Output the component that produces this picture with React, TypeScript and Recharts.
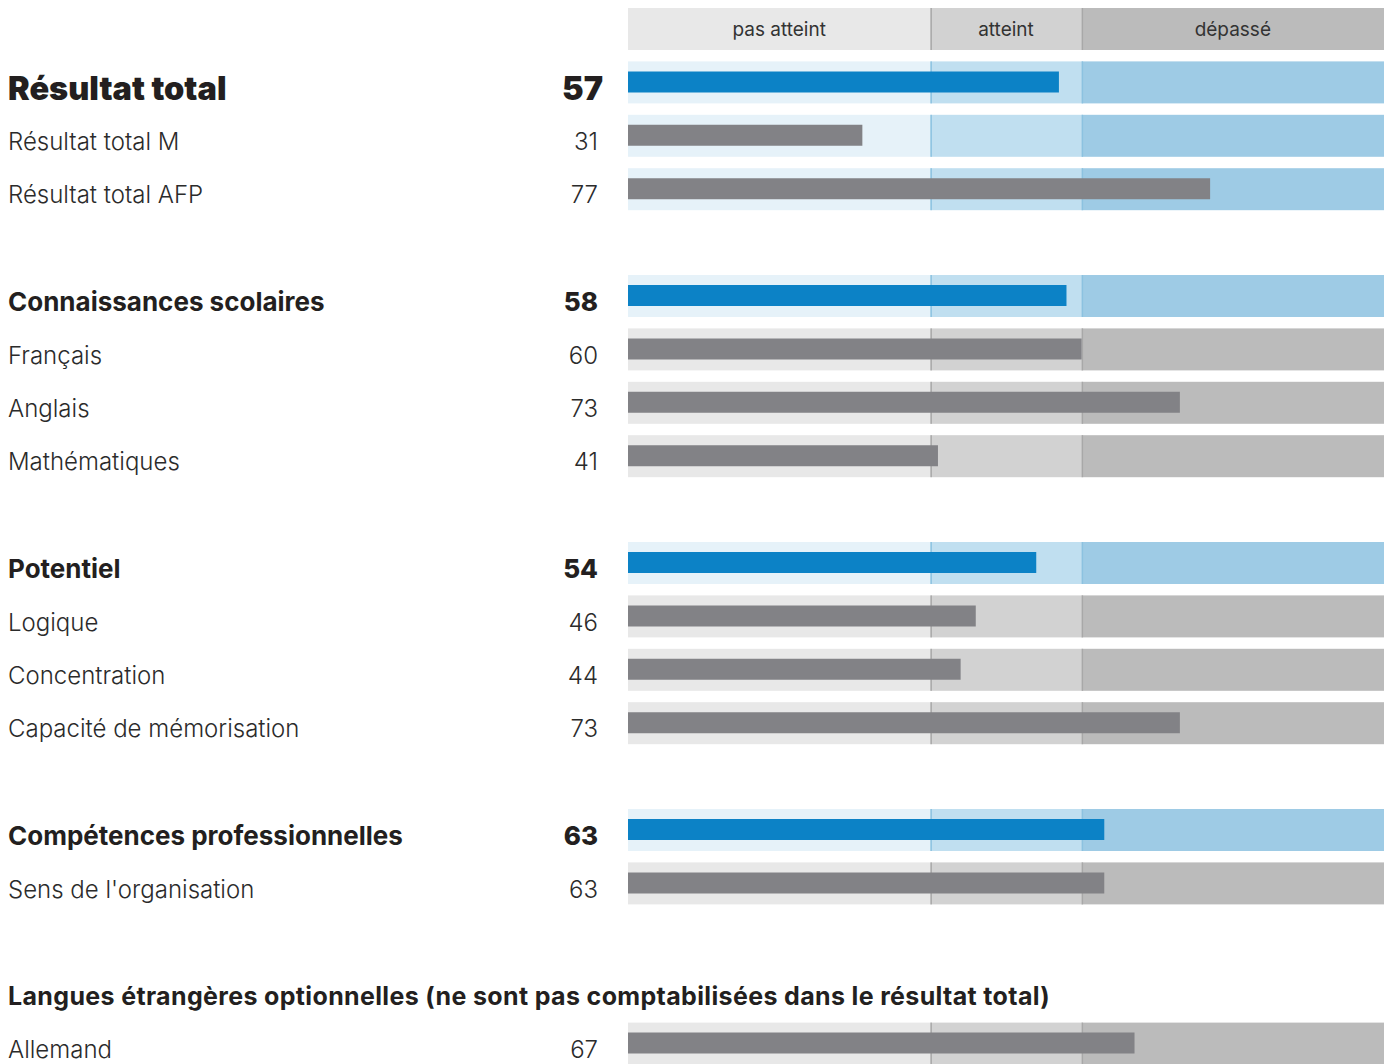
import { BarChart, Bar, XAxis, YAxis, Cell, LabelList } from 'recharts';

// rows top to bottom; '' rows are blank spacers
const ROW_LABELS = [
  '',
  'Résultat total',
  'Résultat total M',
  'Résultat total AFP',
  '',
  'Connaissances scolaires',
  'Français',
  'Anglais',
  'Mathématiques',
  '',
  'Potentiel',
  'Logique',
  'Concentration',
  'Capacité de mémorisation',
  '',
  'Compétences professionnelles',
  "Sens de l'organisation",
  '',
  'Langues étrangères optionnelles (ne sont pas comptabilisées dans le résultat total)',
  'Allemand',
];

const ROW_VALUES = [null, 57, 31, 77, null, 58, 60, 73, 41, null, 54, 46, 44, 73, null, 63, 63, null, null, 67];

// header | total | totalSub | main | item | gap | section
const ROW_KINDS = [
  'header', 'total', 'totalSub', 'totalSub', 'gap',
  'main', 'item', 'item', 'item', 'gap',
  'main', 'item', 'item', 'item', 'gap',
  'main', 'item', 'gap', 'section', 'item',
];

const LEVEL_LABELS = ['pas atteint', 'atteint', 'dépassé'];
const LEVEL_LIMITS = [0, 40, 60, 100];

const BLUE_BANDS = ['#e6f2f9', '#c0dff0', '#9ecbe5'];
const BLUE_DIVIDER = '#8cc2e0';
const GRAY_BANDS = ['#e8e8e8', '#d2d2d2', '#bbbbbb'];
const GRAY_DIVIDER = '#a8a8a8';
const BAR_BLUE = '#0c82c6';
const BAR_GRAY = '#828286';

const FONT = 'Inter, Roboto, sans-serif';

const hasBands = (kind: string) => kind !== 'gap' && kind !== 'section';
const isBlueBg = (kind: string) => kind === 'total' || kind === 'totalSub' || kind === 'main';

const data = ROW_LABELS.map((label, i) => {
  const kind = ROW_KINDS[i];
  const row: any = { id: `r${i}`, label, kind, value: ROW_VALUES[i] ?? 0, shown: ROW_VALUES[i] };
  LEVEL_LABELS.forEach((_, k) => {
    row[`b${k}`] = hasBands(kind) ? LEVEL_LIMITS[k + 1] - LEVEL_LIMITS[k] : 0;
  });
  return row;
});

const makeBandShape = (k: number) => (props: any) => {
  const { x, y, width, height, payload } = props;
  if (!width || width <= 0) return <g />;
  const blue = isBlueBg(payload.kind);
  const fill = (blue ? BLUE_BANDS : GRAY_BANDS)[k];
  const divider = blue ? BLUE_DIVIDER : GRAY_DIVIDER;
  return (
    <g>
      <rect x={x} y={y} width={width} height={height} fill={fill} />
      {k > 0 && <rect x={x} y={y} width={1.5} height={height} fill={divider} />}
    </g>
  );
};

const RowTick = (props: any) => {
  const { y, payload, index } = props;
  const row = data.find((d) => d.id === payload?.value) ?? data[index];
  if (!row || row.kind === 'header' || row.kind === 'gap') return <g />;
  let labelStyle: any = { fontSize: 24, fontWeight: 300, fill: '#2b2b2b' };
  let valueStyle: any = { fontSize: 24, fontWeight: 300, fill: '#2b2b2b' };
  if (row.kind === 'total') {
    labelStyle = { fontSize: 32.5, fontWeight: 900, fill: '#231f20' };
    valueStyle = { fontSize: 32.5, fontWeight: 900, fill: '#231f20' };
  } else if (row.kind === 'main') {
    labelStyle = { fontSize: 26, fontWeight: 700, fill: '#231f20' };
    valueStyle = { fontSize: 26, fontWeight: 800, fill: '#231f20' };
  } else if (row.kind === 'section') {
    labelStyle = { fontSize: 25, fontWeight: 700, fill: '#231f20', letterSpacing: 0.35 };
  }
  return (
    <g fontFamily={FONT}>
      <text x={8} y={y + 6} dominantBaseline="central" {...labelStyle}>
        {row.label}
      </text>
      {row.kind !== 'section' && (
        <text x={row.kind === 'total' ? 603 : 598} y={y + 6} textAnchor="end" dominantBaseline="central" {...valueStyle}>
          {row.shown}
        </text>
      )}
    </g>
  );
};

const HeaderLabel = (k: number) => (props: any) => {
  const { x, y, width, height, index } = props;
  if (data[index]?.kind !== 'header') return null;
  return (
    <text
      x={x + width / 2}
      y={y + height / 2}
      textAnchor="middle"
      dominantBaseline="central"
      fontFamily={FONT}
      fontSize={19}
      fill="#333333"
    >
      {LEVEL_LABELS[k]}
    </text>
  );
};

export default function App() {
  return (
    <div style={{ position: 'absolute', top: 0, left: 0, width: 1392, height: 1070 }}>
      <BarChart
        layout="vertical"
        width={1392}
        height={1070}
        data={data}
        margin={{ top: 2, right: 8, bottom: 0, left: 0 }}
      >
        <XAxis type="number" domain={[0, 100]} hide />
        <YAxis
          yAxisId="bg"
          type="category"
          dataKey="id"
          width={628}
          axisLine={false}
          tickLine={false}
          interval={0}
          tick={RowTick}
        />
        <YAxis yAxisId="val" type="category" dataKey="id" hide />
        {LEVEL_LABELS.map((lvl, k) => (
          <Bar
            key={lvl}
            yAxisId="bg"
            dataKey={`b${k}`}
            stackId="bands"
            barSize={42}
            shape={makeBandShape(k)}
            isAnimationActive={false}
          >
            <LabelList dataKey={`b${k}`} content={HeaderLabel(k)} />
          </Bar>
        ))}
        <Bar yAxisId="val" dataKey="value" barSize={21} isAnimationActive={false}>
          {data.map((row) => (
            <Cell key={row.id} fill={row.kind === 'total' || row.kind === 'main' ? BAR_BLUE : BAR_GRAY} />
          ))}
        </Bar>
      </BarChart>
    </div>
  );
}
